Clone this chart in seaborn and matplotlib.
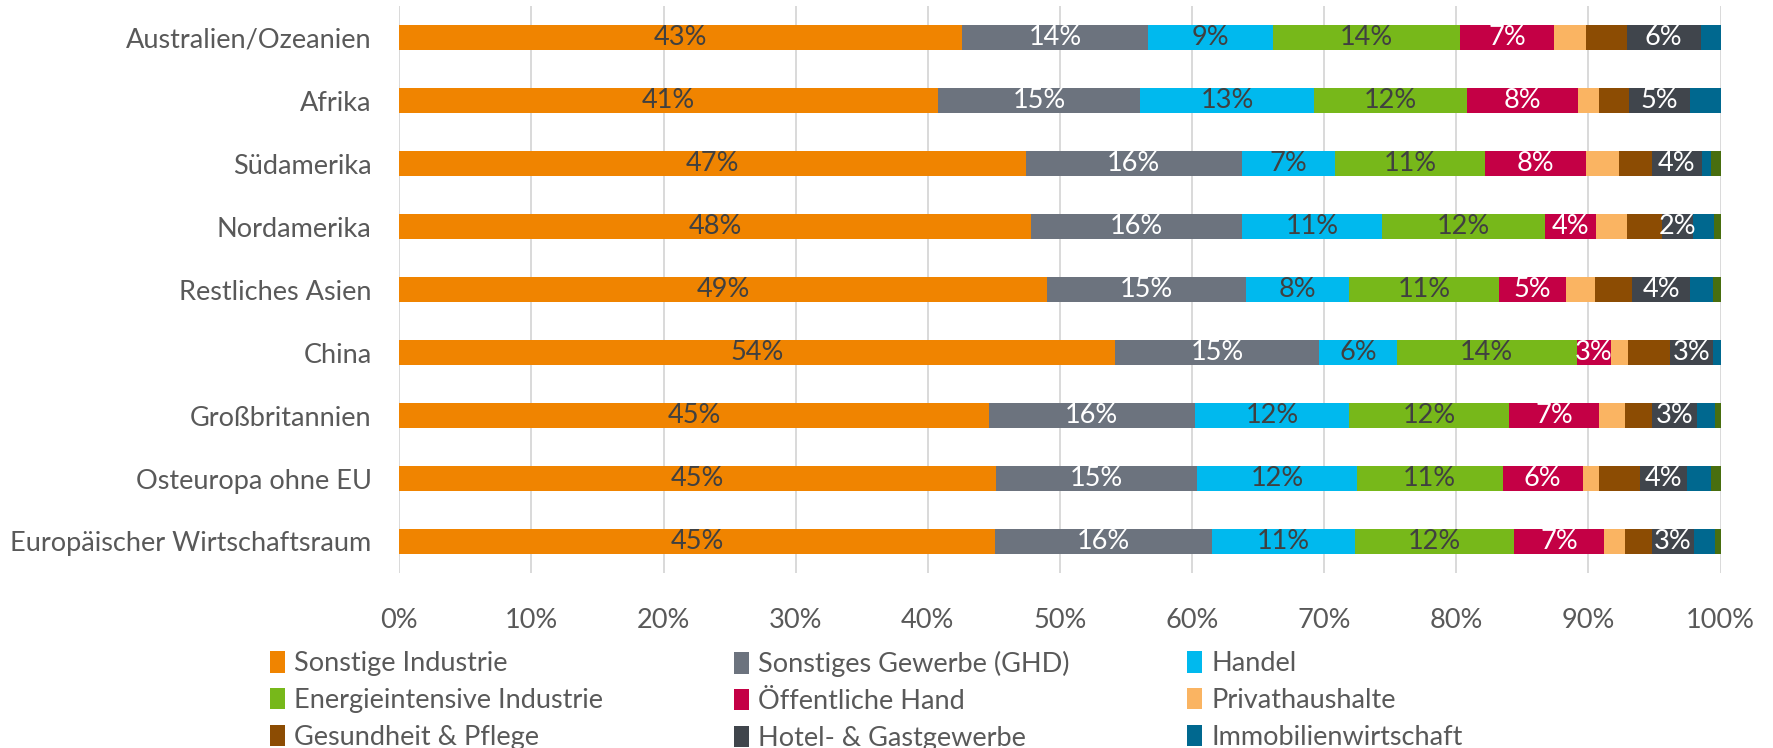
import numpy as np
import matplotlib
matplotlib.use("Agg")
import matplotlib.pyplot as plt
import seaborn as sns
from matplotlib.patches import Patch

# Regions, top to bottom
regions = ["Australien/Ozeanien", "Afrika", "Südamerika", "Nordamerika",
           "Restliches Asien", "China", "Großbritannien",
           "Osteuropa ohne EU", "Europäischer Wirtschaftsraum"]

# Shares per sector (%)
sonstige_industrie = [42.6, 40.8, 47.4, 47.8, 49.0, 54.2, 44.6, 45.2, 45.1]
sonstiges_gewerbe = [14.1, 15.3, 16.4, 16.0, 15.1, 15.4, 15.6, 15.2, 16.4]
handel = [9.4, 13.1, 7.0, 10.6, 7.8, 5.9, 11.7, 12.1, 10.8]
energieintensiv = [14.2, 11.6, 11.4, 12.3, 11.3, 13.6, 12.1, 11.0, 12.1]
oeffentliche_hand = [7.1, 8.4, 7.6, 3.9, 5.1, 2.6, 6.8, 6.1, 6.8]
privathaushalte = [2.4, 1.6, 2.5, 2.3, 2.2, 1.3, 2.0, 1.2, 1.6]
gesundheit = [3.1, 2.3, 2.5, 2.7, 2.8, 3.2, 2.0, 3.1, 2.0]
hotel = [5.6, 4.6, 3.8, 2.3, 4.4, 3.2, 3.4, 3.6, 3.2]
immobilien = [1.5, 2.3, 0.7, 1.6, 1.7, 0.6, 1.4, 1.8, 1.6]
weitere = [0.0, 0.0, 0.7, 0.5, 0.6, 0.0, 0.4, 0.7, 0.4]  # not in legend

sector_names = ["Sonstige Industrie", "Sonstiges Gewerbe (GHD)", "Handel",
                "Energieintensive Industrie", "Öffentliche Hand", "Privathaushalte",
                "Gesundheit & Pflege", "Hotel- & Gastgewerbe", "Immobilienwirtschaft",
                "Weitere"]
colors = ["#F08400", "#6C737E", "#00B9EE", "#77B81A", "#C40045",
          "#FAB462", "#8C4C03", "#40454C", "#00688F", "#486E0F"]
label_colors = ["#404040", "white", "#404040", "#404040", "white",
                None, None, "white", None, None]

series = [sonstige_industrie, sonstiges_gewerbe, handel, energieintensiv,
          oeffentliche_hand, privathaushalte, gesundheit, hotel, immobilien, weitere]
vals = np.array(series)
cum = vals.cumsum(axis=0)

sns.set_style("white")
plt.rcParams['font.family'] = ['Lato', 'DejaVu Sans']
FS = 19.5
TXT = "#595959"

fig = plt.figure(figsize=(17.73, 7.48), dpi=100)
ax = fig.add_axes([0.2252, 0.234, 0.7452, 0.7577])

# stacked bars: overlay cumulative totals, largest first
for k in range(len(series) - 1, -1, -1):
    sns.barplot(x=cum[k], y=regions, orient="h", color=colors[k], saturation=1,
                width=0.4, errorbar=None, linewidth=0, ax=ax)

for k in range(len(series)):
    if label_colors[k] is None:
        continue
    for i in range(len(regions)):
        left = cum[k][i] - vals[k][i]
        ax.text(left + vals[k][i] / 2, i, f"{round(vals[k][i]):.0f}%",
                ha="center", va="center", color=label_colors[k], fontsize=FS)

ax.set_xlim(0, 100)
ax.set_xticks(np.arange(0, 101, 10))
ax.set_xticklabels([f"{t}%" for t in range(0, 101, 10)])
ax.set_xlabel("")
ax.set_ylabel("")
ax.xaxis.grid(True, color="#D9D9D9", linewidth=1.4)
ax.set_axisbelow(True)
for s in ax.spines.values():
    s.set_visible(False)
ax.tick_params(axis="both", length=0, labelsize=FS, colors=TXT)
ax.tick_params(axis="x", pad=25)
ax.tick_params(axis="y", pad=20)

# legend: three columns, row-major order as in the original
W, H = 1773, 748
col_x = [270, 734, 1187]
for c in range(3):
    idx = [c, c + 3, c + 6]
    handles = [Patch(facecolor=colors[j], edgecolor="none") for j in idx]
    fig.legend(handles, [sector_names[j] for j in idx], loc="upper left",
               bbox_to_anchor=(col_x[c] / W, 1 - 651 / H), frameon=False,
               fontsize=FS, labelcolor=TXT, handlelength=0.55, handleheight=0.85,
               handletextpad=0.35, labelspacing=0.43, borderpad=0, borderaxespad=0)

fig.savefig("out.png", dpi=100)
